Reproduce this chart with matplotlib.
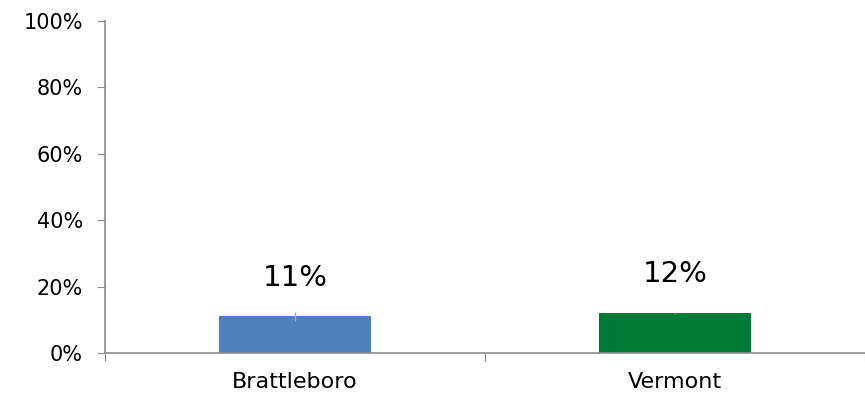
import numpy as np
import matplotlib
matplotlib.use("Agg")
import matplotlib.pyplot as plt

# data
places = ["Brattleboro", "Vermont"]
shares = [11, 12]
errors = [1.5, 0.15]
value_labels = ["11%", "12%"]
y_ticks = [0, 20, 40, 60, 80, 100]

bar_colors = ["#4f81bd", "#007a37"]
axis_gray = "#8c8c8c"

plt.rcParams["font.family"] = ["DejaVu Sans"]

fig = plt.figure(figsize=(8.65, 4.01), dpi=100)
ax = fig.add_axes([0.1214, 0.1197, 0.8786, 0.8279])

x = np.arange(len(places))
ax.bar(x, shares, width=0.4, color=bar_colors, zorder=2)
ax.errorbar(x, shares, yerr=errors, fmt="none", ecolor="#a6a6a6",
            elinewidth=1, capsize=0, zorder=3)

for xi, v, lab in zip(x, shares, value_labels):
    ax.text(xi, v + 7.5, lab, ha="center", va="bottom", fontsize=21, color="black")

ax.set_ylim(0, 100)
ax.set_xlim(-0.494, 1.455)
ax.set_yticks(y_ticks)
ax.set_yticklabels([f"{t}%" for t in y_ticks], fontsize=15)

# category labels centred, ticks at the category boundaries
ax.set_xticks([-0.5, 0.5, 1.5])
ax.set_xticklabels([])
ax.set_xticks(x, minor=True)
ax.set_xticklabels(places, minor=True, fontsize=16)
ax.tick_params(axis="x", which="minor", length=0, pad=14)
ax.tick_params(axis="x", which="major", length=6, color=axis_gray, direction="out")
ax.tick_params(axis="y", length=6, color=axis_gray, direction="out", pad=10)

for side in ["top", "right"]:
    ax.spines[side].set_visible(False)
for side in ["left", "bottom"]:
    ax.spines[side].set_color(axis_gray)
    ax.spines[side].set_linewidth(1.2)

fig.savefig("out.png", dpi=100)
